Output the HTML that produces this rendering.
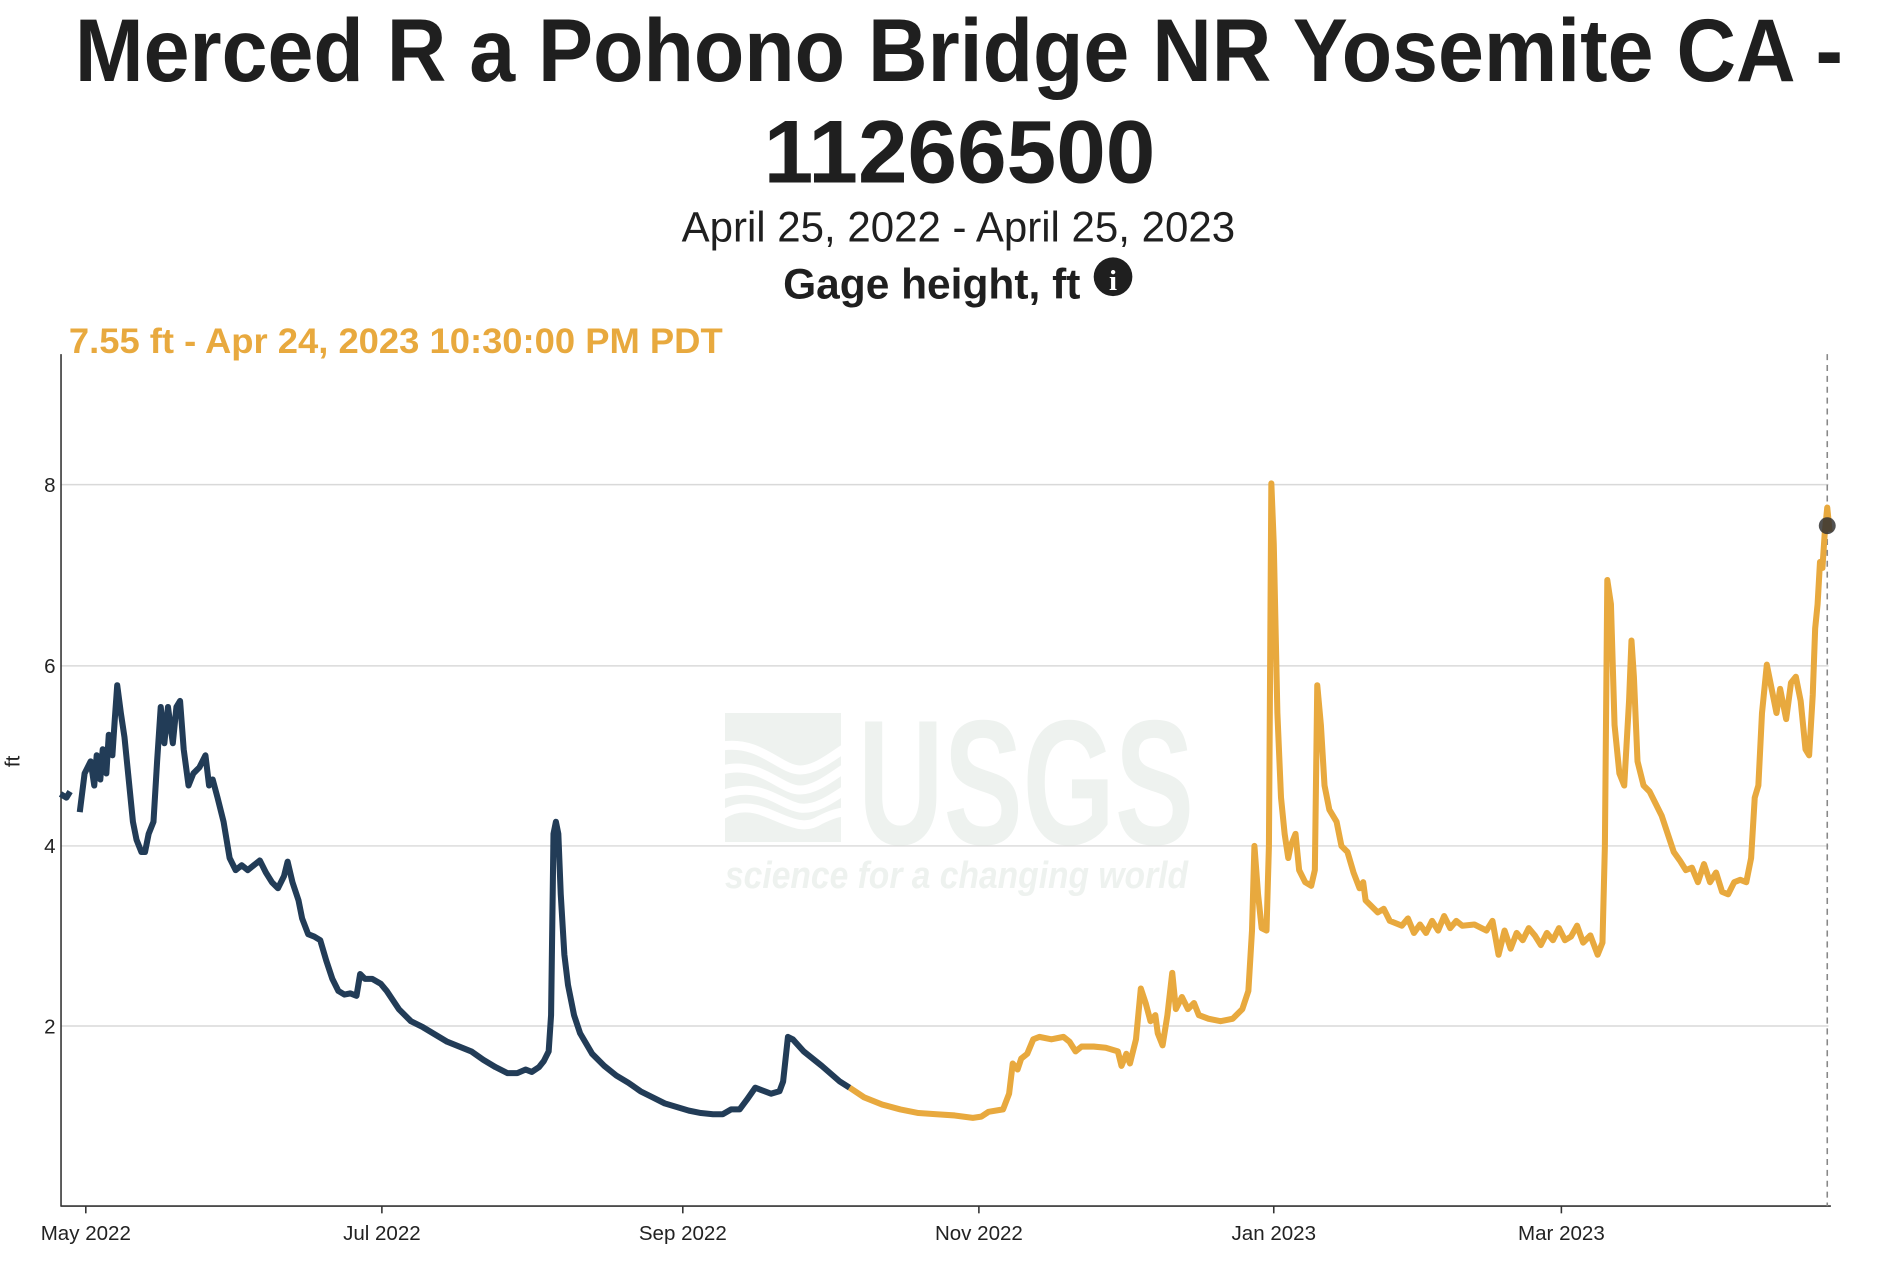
<!DOCTYPE html>
<html><head><meta charset="utf-8"><style>
html,body{margin:0;padding:0;background:#fff;width:1894px;height:1266px;overflow:hidden}
svg{display:block}
</style></head><body>
<svg width="1894" height="1266" viewBox="0 0 1894 1266" xmlns="http://www.w3.org/2000/svg">
<g fill="#eef2ef">
<rect x="725" y="713" width="116" height="129"/>
<text x="858" y="844" font-family="Liberation Sans, sans-serif" font-weight="bold" font-size="178" textLength="336" lengthAdjust="spacingAndGlyphs">USGS</text>
<text x="725" y="888" font-family="Liberation Sans, sans-serif" font-weight="bold" font-style="italic" font-size="38" textLength="463" lengthAdjust="spacingAndGlyphs">science for a changing world</text>
</g>
<g stroke="#fff" stroke-width="9" fill="none">
<path d="M722 746 C760 740 780 770 800 770 C815 770 830 758 845 748"/>
<path d="M722 770 C760 760 780 790 800 790 C815 790 830 778 845 768"/>
<path d="M722 795 C760 780 780 805 800 808 C815 810 830 800 845 790"/>
<path d="M722 815 C760 790 790 840 820 820 C830 815 838 812 845 812"/>
</g>
<g transform="scale(1.2085)">
<g font-family="Liberation Sans, sans-serif" fill="#1f1f1f" text-anchor="start">
<text x="62" y="67" font-size="74" font-weight="bold" textLength="1463" lengthAdjust="spacingAndGlyphs">Merced R a Pohono Bridge NR Yosemite CA -</text>
<text x="632" y="151" font-size="74" font-weight="bold" textLength="324" lengthAdjust="spacingAndGlyphs">11266500</text>
<text x="564" y="200" font-size="35" textLength="458" lengthAdjust="spacingAndGlyphs">April 25, 2022 - April 25, 2023</text>
<text x="648" y="247" font-size="35" font-weight="bold" textLength="246" lengthAdjust="spacingAndGlyphs">Gage height, ft</text>
</g>
<circle cx="921" cy="229" r="16" fill="#1f1f1f"/>
<text x="921" y="240" font-family="Liberation Serif, serif" font-weight="bold" font-size="24" fill="#fff" text-anchor="middle">i</text>
<text x="57" y="292" font-family="Liberation Sans, sans-serif" font-weight="bold" font-size="29" fill="#e8a93e" textLength="541" lengthAdjust="spacingAndGlyphs">7.55 ft - Apr 24, 2023 10:30:00 PM PDT</text>
<g stroke="#d9d9d9" stroke-width="1.2">
<line x1="50" x2="1513" y1="401" y2="401"/><line x1="50" x2="1513" y1="551" y2="551"/>
<line x1="50" x2="1513" y1="700" y2="700"/><line x1="50" x2="1513" y1="849" y2="849"/>
</g>
<g font-family="Liberation Sans, sans-serif" font-size="17" fill="#222">
<text x="46" y="407" text-anchor="end">8</text><text x="46" y="557" text-anchor="end">6</text>
<text x="46" y="706" text-anchor="end">4</text><text x="46" y="855" text-anchor="end">2</text>
<text x="16" y="630" text-anchor="middle" transform="rotate(-90 16 630)">ft</text>
<text x="71" y="1026" text-anchor="middle">May 2022</text><text x="316" y="1026" text-anchor="middle">Jul 2022</text>
<text x="565" y="1026" text-anchor="middle">Sep 2022</text><text x="810" y="1026" text-anchor="middle">Nov 2022</text>
<text x="1054" y="1026" text-anchor="middle">Jan 2023</text><text x="1292" y="1026" text-anchor="middle">Mar 2023</text>
</g>
<g stroke="#333" stroke-width="1.3">
<line x1="50.5" y1="293" x2="50.5" y2="998"/><line x1="50" y1="998" x2="1515" y2="998"/>
<line x1="71" y1="998" x2="71" y2="1004"/><line x1="316" y1="998" x2="316" y2="1004"/>
<line x1="565" y1="998" x2="565" y2="1004"/><line x1="810" y1="998" x2="810" y2="1004"/>
<line x1="1054" y1="998" x2="1054" y2="1004"/><line x1="1292" y1="998" x2="1292" y2="1004"/>
</g>
<line x1="1512" y1="293" x2="1512" y2="998" stroke="#888" stroke-width="1.3" stroke-dasharray="5,4"/>
<g fill="none" stroke-width="5" stroke-linejoin="round">
<polyline stroke="#223c57" points="50,657 55,660 58,655"/>
<polyline stroke="#223c57" points="66,672 70,640 75,630 78,650 80,625 83,645 85,620 88,640 90,608 93,625 95,595 97,567 100,590 103,610 106,640 110,680 113,695 117,705 120,705 123,690 127,680 130,630 133,585 136,615 139,585 143,615 146,585 149,580 152,620 156,650 160,640 165,635 170,625 173,650 176,645 180,660 185,680 190,710 195,720 200,716 205,720 210,716 215,712 220,722 225,730 230,735 235,725 238,713 242,730 247,745 250,760 255,773 260,775 265,778 270,795 275,810 280,820 285,823 290,822 295,824 298,806 302,810 308,810 315,814 320,820 330,835 340,845 350,850 360,856 370,862 380,866 390,870 400,877 410,883 420,888 428,888 435,885 440,887 446,883 450,878 454,870 456,840 458,690 460,680 462,690 464,740 467,790 470,815 475,840 480,855 490,872 500,882 510,890 520,896 530,903 540,908 550,913 560,916 570,919 580,921 590,922 598,922 605,918 612,918 618,910 625,900 630,902 638,905 645,903 648,895 652,858 656,860 665,870 680,882 695,895 703,900"/>
<polyline stroke="#e8a93e" points="703,900 715,908 730,914 745,918 760,921 775,922 790,923 805,925 812,924 818,920 830,918 835,905 838,880 842,885 845,876 850,872 855,860 860,858 870,860 880,858 885,862 890,870 895,866 905,866 915,867 925,870 928,882 932,872 935,880 940,860 944,818 948,830 952,845 956,840 958,855 962,865 966,840 970,805 973,835 978,825 983,835 988,830 992,840 1000,843 1010,845 1020,843 1028,835 1033,820 1036,770 1038,700 1041,740 1044,768 1048,770 1050,700 1052,400 1054,450 1057,590 1060,660 1063,690 1066,710 1068,700 1072,690 1075,720 1080,730 1085,733 1088,720 1090,567 1093,600 1096,650 1100,670 1106,680 1110,700 1115,705 1120,722 1125,735 1128,730 1130,745 1135,750 1140,755 1145,752 1150,762 1160,766 1165,760 1170,772 1175,765 1180,772 1185,762 1190,770 1195,758 1200,768 1205,762 1210,766 1220,765 1230,770 1235,762 1240,790 1245,770 1250,785 1255,772 1260,778 1265,768 1270,774 1275,782 1280,772 1285,778 1290,768 1295,778 1300,775 1305,766 1310,780 1316,774 1322,790 1326,780 1328,700 1330,480 1333,500 1336,600 1340,640 1344,650 1348,580 1350,530 1352,560 1355,630 1360,650 1365,655 1370,665 1375,675 1380,690 1385,705 1390,712 1395,720 1400,718 1405,730 1410,715 1415,730 1420,722 1425,738 1430,740 1435,730 1440,728 1445,730 1449,710 1452,660 1455,650 1458,590 1462,550 1466,570 1470,590 1473,570 1475,580 1478,595 1482,565 1486,560 1490,580 1494,620 1497,625 1500,575 1502,520 1504,500 1506,465 1508,470 1510,440 1512,420 1514,440"/>
</g>
<circle cx="1512" cy="435" r="7" fill="#333" fill-opacity="0.85"/>
</g>
</svg>
</body></html>
